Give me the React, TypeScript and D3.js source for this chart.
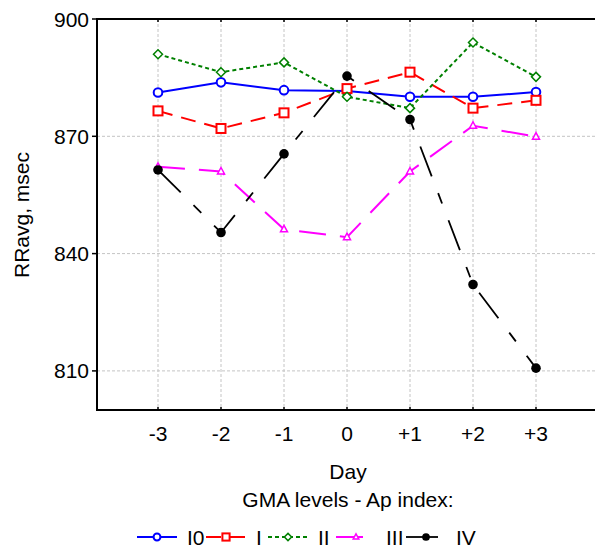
import React, { useEffect, useRef } from 'react';
import * as d3 from 'd3';

const days = [-3, -2, -1, 0, 1, 2, 3];
const dayLabels = ['-3', '-2', '-1', '0', '+1', '+2', '+3'];
const yTicks = [810, 840, 870, 900];

const seriesNames = ['I0', 'I', 'II', 'III', 'IV'];
const valuesI0 = [881.2, 883.8, 881.8, 881.6, 880.1, 880.1, 881.3];
const valuesI = [876.5, 872.0, 876.0, 882.2, 886.4, 877.2, 879.2];
const valuesII = [891.0, 886.4, 888.9, 880.1, 877.2, 894.0, 885.2];
const valuesIII = [862.2, 861.0, 846.2, 844.2, 861.0, 872.7, 869.9];
const valuesIV = [861.4, 845.4, 865.5, 885.4, 874.3, 832.1, 810.7];

const W = 595;
const H = 548;

const styles = [
  { color: '#0000ff', dash: null, marker: 'circle', width: 2 },
  { color: '#ff0000', dash: '15,9', marker: 'square', width: 2 },
  { color: '#008000', dash: '4,3', marker: 'diamond', width: 2 },
  { color: '#ff00ff', dash: '27,14', marker: 'triangle', width: 2 },
  { color: '#000000', dash: '32,18,11,18', marker: 'dot', width: 1.8 },
];

// legend symbol centres
const legendX = [157, 226, 288, 356, 426];

const App = () => {
  const svgRef = useRef<SVGSVGElement>(null);

  useEffect(() => {
    const svg = d3.select(svgRef.current);
    svg.selectAll('*').remove();

    const font = 'Liberation Sans, Arial, sans-serif';
    const left = 97, top = 19, bottom = 410;

    const x = d3.scaleLinear().domain([-3, 3]).range([158, 536]);
    const y = d3.scaleLinear().domain([800, 900]).range([bottom, top]);

    const allValues = [valuesI0, valuesI, valuesII, valuesIII, valuesIV];

    // grid
    const grid = svg.append('g').attr('stroke', '#c4c4c4').attr('stroke-width', 1).attr('stroke-dasharray', '3,2');
    grid.selectAll('line.v').data(days).join('line')
      .attr('x1', d => x(d)).attr('x2', d => x(d))
      .attr('y1', top).attr('y2', bottom);
    grid.selectAll('line.h').data(yTicks.filter(t => t < 900)).join('line')
      .attr('class', 'h')
      .attr('x1', left).attr('x2', W)
      .attr('y1', d => y(d)).attr('y2', d => y(d));

    // frame
    const frame = svg.append('g').attr('stroke', '#000').attr('stroke-width', 2).attr('fill', 'none');
    frame.append('path').attr('d', `M${W},${top}H${left}V${bottom}H${W}`);
    frame.selectAll('line.yt').data(yTicks).join('line')
      .attr('x1', left - 5).attr('x2', left)
      .attr('y1', d => y(d)).attr('y2', d => y(d)).attr('stroke-width', 1.5);
    frame.selectAll('line.xb').data(days).join('line')
      .attr('class', 'xb')
      .attr('x1', d => x(d)).attr('x2', d => x(d))
      .attr('y1', bottom - 3).attr('y2', bottom).attr('stroke-width', 1.5);
    frame.selectAll('line.xt').data(days).join('line')
      .attr('class', 'xt')
      .attr('x1', d => x(d)).attr('x2', d => x(d))
      .attr('y1', top).attr('y2', top + 3).attr('stroke-width', 1.5);

    // tick labels
    svg.append('g').selectAll('text').data(yTicks).join('text')
      .attr('x', 89).attr('y', d => y(d) + 7.5)
      .attr('text-anchor', 'end')
      .style('font-family', font).style('font-size', '21px')
      .text(d => d);
    svg.append('g').selectAll('text').data(days).join('text')
      .attr('x', d => x(d)).attr('y', 441)
      .attr('text-anchor', 'middle')
      .style('font-family', font).style('font-size', '21px')
      .text((d, i) => dayLabels[i]);

    svg.append('text').attr('x', 348).attr('y', 479).attr('text-anchor', 'middle')
      .style('font-family', font).style('font-size', '21px').text('Day');
    svg.append('text').attr('x', 348).attr('y', 507).attr('text-anchor', 'middle')
      .style('font-family', font).style('font-size', '21px').text('GMA levels - Ap index:');
    svg.append('text')
      .attr('transform', 'translate(29,215) rotate(-90)')
      .attr('text-anchor', 'middle')
      .style('font-family', font).style('font-size', '21px').text('RRavg, msec');

    const drawMarker = (g, kind, color, cx, cy, s = 1) => {
      if (kind === 'circle') {
        g.append('circle').attr('cx', cx).attr('cy', cy).attr('r', 4.3 * s)
          .attr('fill', '#fff').attr('stroke', color).attr('stroke-width', 2);
      } else if (kind === 'square') {
        const h = 4.5 * s;
        g.append('rect').attr('x', cx - h).attr('y', cy - h).attr('width', 2 * h).attr('height', 2 * h)
          .attr('fill', '#fff').attr('stroke', color).attr('stroke-width', 2);
      } else if (kind === 'diamond') {
        const h = 4.5 * s;
        g.append('path').attr('d', `M${cx},${cy - h}L${cx + h},${cy}L${cx},${cy + h}L${cx - h},${cy}Z`)
          .attr('fill', '#fff').attr('stroke', color).attr('stroke-width', 1.5);
      } else if (kind === 'triangle') {
        g.append('path').attr('d', `M${cx},${cy - 4 * s}L${cx + 3.5 * s},${cy + 2.5 * s}L${cx - 3.5 * s},${cy + 2.5 * s}Z`)
          .attr('fill', '#fff').attr('stroke', color).attr('stroke-width', 1.5);
      } else {
        g.append('circle').attr('cx', cx).attr('cy', cy).attr('r', 4.8 * s).attr('fill', color);
      }
    };

    const line = d3.line<number>().x((d, i) => x(days[i])).y(d => y(d));

    allValues.forEach((vals, si) => {
      const st = styles[si];
      const g = svg.append('g');
      g.append('path').attr('d', line(vals))
        .attr('fill', 'none').attr('stroke', st.color).attr('stroke-width', st.width)
        .attr('stroke-dasharray', st.dash);
      vals.forEach((v, i) => drawMarker(g, st.marker, st.color, x(days[i]), y(v)));
    });

    // legend
    const ly = 537;
    seriesNames.forEach((name, si) => {
      const st = styles[si];
      const cx = legendX[si];
      const g = svg.append('g');
      g.append('line').attr('x1', cx - 20).attr('x2', cx + 20).attr('y1', ly).attr('y2', ly)
        .attr('stroke', st.color).attr('stroke-width', st.width).attr('stroke-dasharray', st.dash);
      drawMarker(g, st.marker, st.color, cx, ly, 0.8);
      g.append('text').attr('x', cx + 30).attr('y', ly + 8)
        .style('font-family', font).style('font-size', '21px').text(name);
    });
  }, []);

  return (
    <svg ref={svgRef} width={W} height={H}
      style={{ position: 'absolute', left: 0, top: 0, background: '#fff' }} />
  );
};

export default App;
